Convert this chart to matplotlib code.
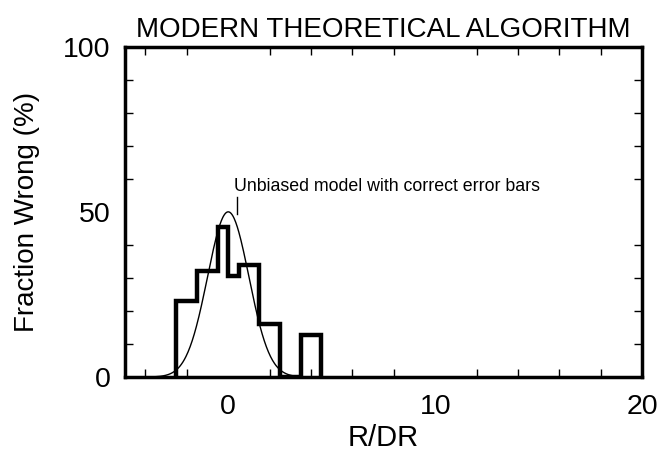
import numpy as np
import matplotlib
matplotlib.use("Agg")
import matplotlib.pyplot as plt
from matplotlib.ticker import MultipleLocator

plt.rcParams['font.family'] = ['Liberation Sans', 'DejaVu Sans']

# histogram of R/DR (bin edges and fraction wrong per bin, %)
bin_edges = [-2.5, -1.5, -0.5, 0.0, 0.5, 1.5, 2.5, 3.5, 4.5]
frac_wrong = [23, 32, 45.5, 30.5, 34, 16, 0, 12.7]

# unbiased model: gaussian with unit width
model_peak = 50
model_sigma = 1.0
model_range = (-5, 5)

fig = plt.figure(figsize=(6.6, 4.57), dpi=100)
ax = fig.add_axes([0.189, 0.175, 0.784, 0.723])

# step outline of the histogram
edges = np.array(bin_edges)
vals = np.array(frac_wrong, dtype=float)
xs = np.repeat(edges, 2)
ys = np.concatenate([[0], np.repeat(vals, 2), [0]])
ax.plot(xs, ys, color='black', linewidth=3.2, solid_joinstyle='miter')

# model curve
xm = np.linspace(model_range[0], model_range[1], 400)
ym = model_peak * np.exp(-0.5 * (xm / model_sigma) ** 2)
ax.plot(xm, ym, color='black', linewidth=1.0)

# annotation
ax.text(0.26, 56.2, "Unbiased model with correct error bars",
        fontsize=12.8, ha='left', va='baseline')
ax.plot([0.4, 0.4], [49.2, 54.5], color='black', linewidth=1.0)

ax.set_xlim(-5, 20)
ax.set_ylim(0, 100)
ax.set_xticks([0, 10, 20])
ax.set_yticks([0, 50, 100])
ax.xaxis.set_minor_locator(MultipleLocator(2))
ax.yaxis.set_minor_locator(MultipleLocator(10))
ax.tick_params(which='both', direction='in', top=True, right=True,
               width=1.0, labelsize=20.5)
ax.tick_params(axis='x', pad=12)
ax.tick_params(axis='y', pad=10)
ax.tick_params(which='major', length=0)
ax.tick_params(which='minor', length=6)
for s in ax.spines.values():
    s.set_linewidth(2.5)

ax.set_xlabel("R/DR", fontsize=21, labelpad=3)
ax.set_ylabel("Fraction Wrong (%)", fontsize=20, labelpad=17)
ax.set_title("MODERN THEORETICAL ALGORITHM", fontsize=20, pad=7)

fig.savefig("out.png", dpi=100)
